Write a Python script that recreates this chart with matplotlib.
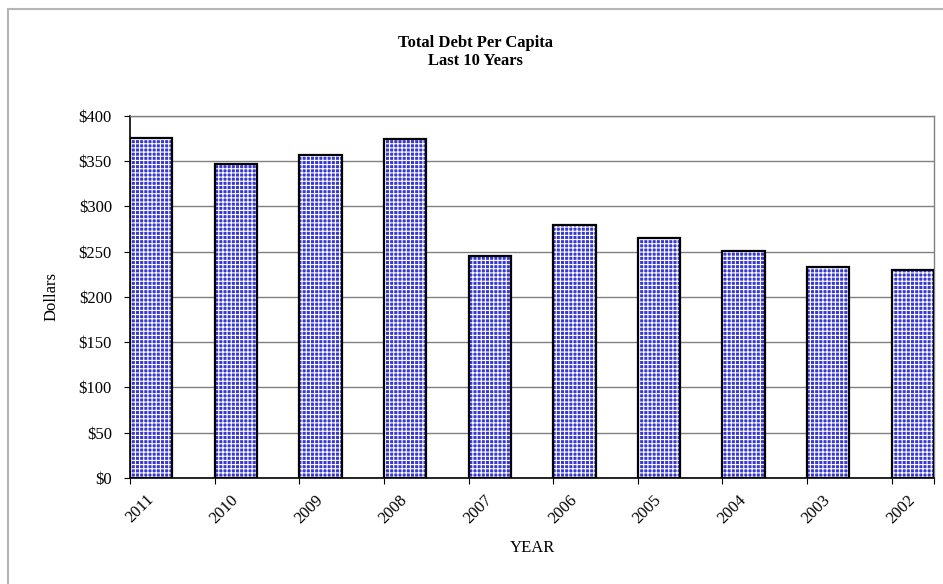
import matplotlib
matplotlib.use("Agg")
import matplotlib.pyplot as plt
from matplotlib.lines import Line2D
from matplotlib.ticker import FuncFormatter, MultipleLocator
import numpy as np

years = ["2011", "2010", "2009", "2008", "2007", "2006", "2005", "2004", "2003", "2002"]
debt_per_capita = [376, 347, 357, 375, 245, 279, 265, 251, 233, 230]

plt.rcParams["font.family"] = ["Liberation Serif", "DejaVu Serif"]
plt.rcParams["hatch.linewidth"] = 0.8

fig = plt.figure(figsize=(9.43, 5.84), dpi=100)
ax = fig.add_axes([0.1379, 0.1815, 0.8526, 0.6199])

x = np.arange(len(years))
width = 0.5

# checkered fill: blue face crossed by white hatch lines
ax.bar(x, debt_per_capita, width=width, color="#3838d4", edgecolor="white",
       hatch="++++", linewidth=0, zorder=2)
# black outline on top
ax.bar(x, debt_per_capita, width=width, facecolor="none", edgecolor="black",
       linewidth=1.6, zorder=3)

ax.set_xlim(-width / 2, len(years) - 1 + width / 2)
ax.set_ylim(0, 400)

ax.yaxis.set_major_locator(MultipleLocator(50))
ax.yaxis.set_major_formatter(FuncFormatter(lambda v, p: f"${v:,.0f}"))
ax.grid(axis="y", color="#808080", linewidth=1.0, zorder=1)
ax.set_axisbelow(True)

ax.set_xticks(x)
ax.set_xticklabels(years, rotation=45, ha="right", va="center",
                   rotation_mode="anchor", fontsize=12)
edges = np.concatenate([x - width / 2, [x[-1] + width / 2]])
ax.set_xticks(edges, minor=True)
ax.tick_params(axis="x", which="major", length=0, pad=14)
ax.tick_params(axis="x", which="minor", length=4, width=0.8, direction="out")
ax.tick_params(axis="y", which="major", length=4, width=0.8, direction="out",
               pad=9, labelsize=12)

for side in ("top", "right"):
    ax.spines[side].set_color("#808080")
    ax.spines[side].set_linewidth(1.0)
for side in ("left", "bottom"):
    ax.spines[side].set_color("black")
    ax.spines[side].set_linewidth(1.2)

ax.set_ylabel("Dollars", fontsize=12, labelpad=14)
ax.set_xlabel("YEAR", fontsize=12, labelpad=10)

fig.text(0.504, 0.911, "Total Debt Per Capita\nLast 10 Years", ha="center",
         va="center", fontsize=12, fontweight="bold", linespacing=1.15)

# outer chart frame (top and left edges)
fig.add_artist(Line2D([8 / 943, 1.0], [1 - 9 / 584, 1 - 9 / 584],
                      transform=fig.transFigure, color="#b5b5b5", linewidth=1.5))
fig.add_artist(Line2D([8 / 943, 8 / 943], [0.0, 1 - 9 / 584],
                      transform=fig.transFigure, color="#b5b5b5", linewidth=1.5))

fig.savefig("out.png", dpi=100)
